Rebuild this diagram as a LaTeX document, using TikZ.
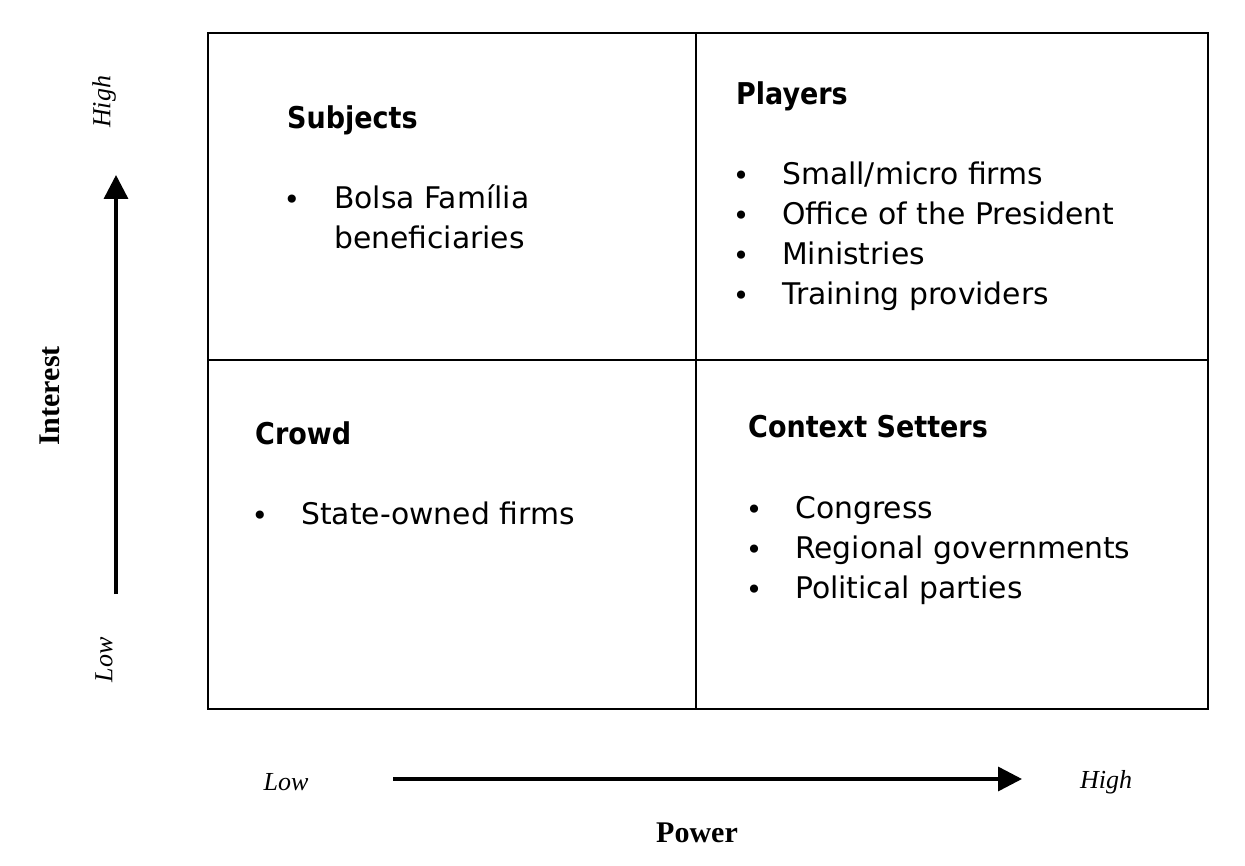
\documentclass[tikz,border=0pt]{standalone}
\usepackage{fontspec}
\setmainfont{Liberation Serif}
\newfontfamily\qfont{DejaVu Sans}
\newfontfamily\qcfont{DejaVu Sans Condensed}
\usetikzlibrary{arrows.meta}
\begin{document}
\begin{tikzpicture}[x=1pt,y=-1pt,
  grid/.style={draw=black,line width=2pt},
  axisarrow/.style={line width=3.5pt,-{Triangle[length=24pt,width=24pt]}},
  axlab/.style={font=\fontsize{26}{30}\selectfont\itshape,inner sep=0pt},
  axtitle/.style={font=\fontsize{30}{34}\selectfont\bfseries,inner sep=0pt},
  qhead/.style={font=\fontsize{30}{36}\qcfont\bfseries,anchor=base west,inner sep=0pt},
  qitem/.style={font=\fontsize{29.8}{36}\qfont,anchor=base west,inner sep=0pt},
  qbullet/.style={font=\fontsize{28}{36}\qfont,anchor=base,inner sep=0pt}]
\useasboundingbox (0,0) rectangle (1245,866);
% grid
\draw[grid] (208,33) rectangle (1208,709);
\draw[grid] (696,33) -- (696,709);
\draw[grid] (208,360) -- (1208,360);
% axes
\coordinate (vS) at (116,594);
\coordinate (vE) at (116,175);
\draw[axisarrow] (vS) -- (vE);
\coordinate (hS) at (393,779);
\coordinate (hE) at (1022,779);
\draw[axisarrow] (hS) -- (hE);
\node[axlab,rotate=90] (ihigh) at (104,102) {High};
\node[axlab,rotate=90] (ilow) at (104,660) {Low};
\node[axtitle,rotate=90] (interest) at (50,396) {Interest};
\node[axlab] (plow) at (286,782) {Low};
\node[axlab] (phigh) at (1106,782) {High};
\node[axtitle] (power) at (697,833) {Power};
% Subjects
\node[qhead] (subj) at (287,129) {Subjects};
\node[qbullet] (sb1) at (292,210) {•};
\node[qitem] (s1) at (334,209) {Bolsa Família};
\node[qitem] (s1b) at (334,249) {beneficiaries};
% Players
\node[qhead] (play) at (736,105) {Players};
\node[qbullet] (pb1) at (741,186) {•};
\node[qitem] (p1) at (782,185) {Small/micro firms};
\node[qbullet] (pb2) at (741,226) {•};
\node[qitem] (p2) at (782,225) {Office of the President};
\node[qbullet] (pb3) at (741,266) {•};
\node[qitem] (p3) at (782,265) {Ministries};
\node[qbullet] (pb4) at (741,306) {•};
\node[qitem] (p4) at (782,305) {Training providers};
% Crowd
\node[qhead] (crowd) at (255,444) {Crowd};
\node[qbullet] (cb1) at (260,525) {•};
\node[qitem] (c1) at (301,524) {State-owned firms};
% Context Setters
\node[qhead] (ctx) at (748,438) {Context Setters};
\node[qbullet] (xb1) at (754,519) {•};
\node[qitem] (x1) at (795,518) {Congress};
\node[qbullet] (xb2) at (754,559) {•};
\node[qitem] (x2) at (795,558) {Regional governments};
\node[qbullet] (xb3) at (754,599) {•};
\node[qitem] (x3) at (795,598) {Political parties};
\end{tikzpicture}
\end{document}
